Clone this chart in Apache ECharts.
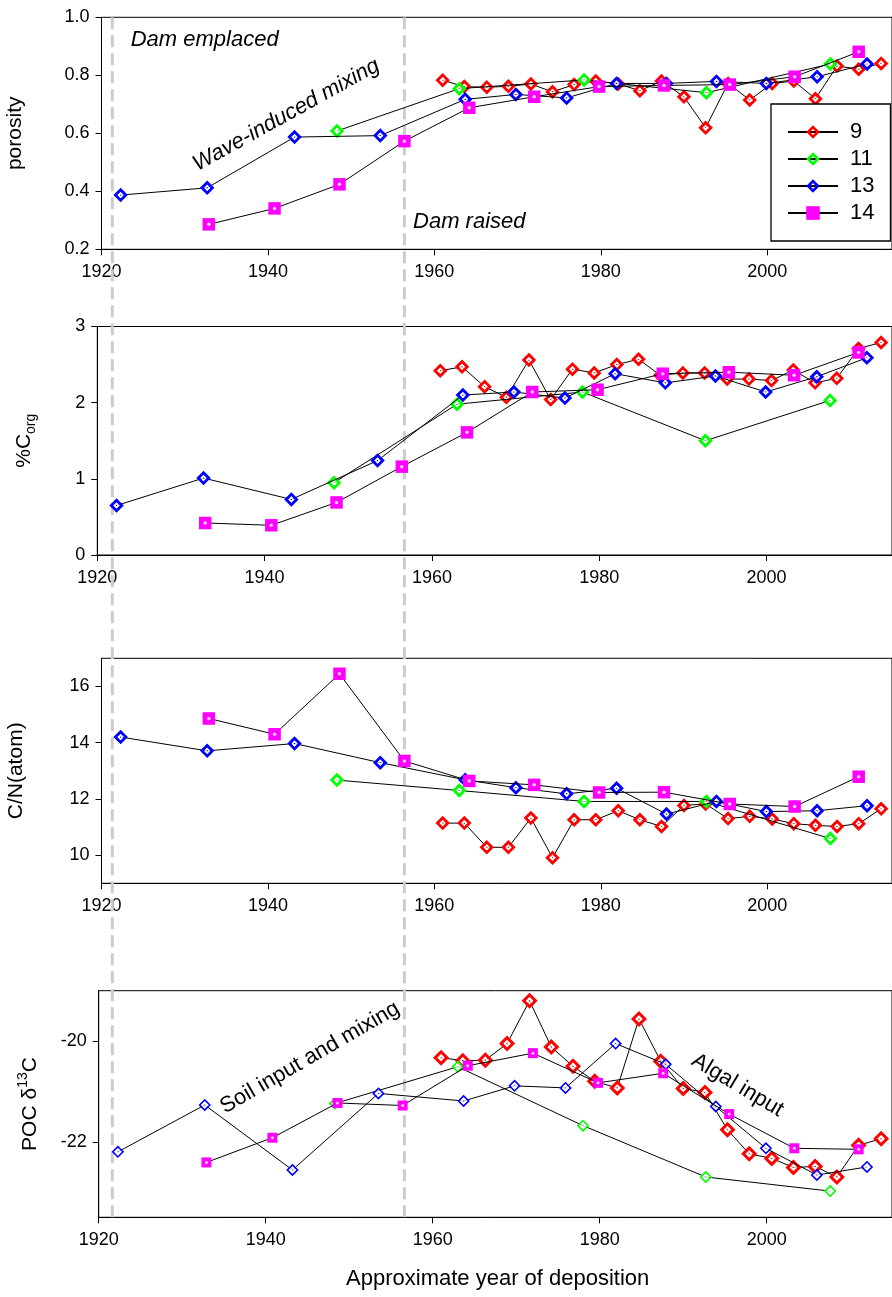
<!DOCTYPE html>
<html><head><meta charset="utf-8">
<script src="https://cdn.jsdelivr.net/npm/echarts@6/dist/echarts.min.js"></script>
<style>html,body{margin:0;padding:0;background:#fff}#c{width:892px;height:1297px}</style>
</head><body><div id="c"></div>
<script>
// ---- sample years (approximate year of deposition) per core ----
const years9  = [1961.0,1963.6,1966.3,1968.9,1971.6,1974.2,1976.8,1979.4,1982.1,1984.7,1987.3,1990.0,1992.6,1995.3,1997.9,2000.6,2003.2,2005.8,2008.4,2011.0,2013.7];
const years11 = [1948.3,1963.0,1978.0,1992.7,2007.6];
const years13 = [1922.3,1932.7,1943.2,1953.5,1963.7,1969.8,1975.9,1981.9,1987.9,1993.9,1999.9,2006.0,2012.0];
const years14 = [1932.9,1940.8,1948.6,1956.4,1964.2,1972.0,1979.8,1987.6,1995.5,2003.3,2011.0];

// ---- porosity ----
const poro9  = [0.783,0.761,0.759,0.762,0.770,0.743,0.768,0.780,0.770,0.747,0.780,0.726,0.619,0.772,0.715,0.772,0.780,0.719,0.832,0.821,0.841];
const poro11 = [0.608,0.754,0.784,0.740,0.839];
const poro13 = [0.387,0.412,0.587,0.592,0.717,0.734,0.722,0.772,0.772,0.779,0.772,0.795,0.839];
const poro14 = [0.286,0.341,0.424,0.573,0.688,0.726,0.761,0.765,0.768,0.795,0.881];

// ---- %Corg ----
const corg9  = [2.42,2.47,2.21,2.07,2.56,2.04,2.44,2.39,2.50,2.57,2.36,2.39,2.39,2.31,2.31,2.29,2.43,2.26,2.32,2.71,2.79];
const corg11 = [0.95,1.98,2.14,1.50,2.03];
const corg13 = [0.65,1.01,0.73,1.24,2.10,2.14,2.06,2.38,2.26,2.35,2.14,2.34,2.59];
const corg14 = [0.42,0.39,0.69,1.16,1.61,2.14,2.17,2.38,2.40,2.36,2.66];

// ---- C/N (atomic) ----
const cn9  = [11.14,11.14,10.28,10.28,11.32,9.91,11.26,11.26,11.58,11.26,11.02,11.77,11.82,11.30,11.38,11.29,11.12,11.06,11.02,11.12,11.65];
const cn11 = [12.67,12.30,11.91,11.91,10.59];
const cn13 = [14.20,13.71,13.97,13.29,12.68,12.40,12.18,12.38,11.46,11.91,11.55,11.58,11.76];
const cn14 = [14.86,14.30,16.45,13.35,12.64,12.50,12.23,12.24,11.82,11.73,12.79];

// ---- POC d13C ----
const d9  = [-20.33,-20.39,-20.38,-20.05,-19.20,-20.12,-20.50,-20.80,-20.93,-19.56,-20.40,-20.94,-21.02,-21.76,-22.24,-22.33,-22.51,-22.49,-22.70,-22.07,-21.94];
const d11 = [-21.24,-20.51,-21.68,-22.70,-22.98];
const d13 = [-22.20,-21.27,-22.56,-21.04,-21.19,-20.89,-20.93,-20.05,-20.46,-21.30,-22.13,-22.66,-22.50];
const d14 = [-22.41,-21.92,-21.23,-21.28,-20.49,-20.24,-20.83,-20.64,-21.45,-22.13,-22.15];

// ---- axis ticks ----
const xTickInterval = 20;
const yPanels = [
  {min:0.2, max:1.0, ticks:[0.2,0.4,0.6,0.8,1.0], fmt:v=>v.toFixed(1)},
  {min:0, max:3, ticks:[0,1,2,3], fmt:v=>String(v)},
  {min:9, max:17, ticks:[10,12,14,16], fmt:v=>String(v)},
  {min:-23.5, max:-19, ticks:[-22,-20], fmt:v=>String(v)}
];
const panelValues = [
  [poro9,poro11,poro13,poro14],
  [corg9,corg11,corg13,corg14],
  [cn9,cn11,cn13,cn14],
  [d9,d11,d13,d14]
];
const coreNames = ['9','11','13','14'];
const coreYears = [years9,years11,years13,years14];
const coreColors = ['#ff0000','#00ff00','#0000ff','#ff00ff'];

const FONT = 'Liberation Sans, Arial, sans-serif';
const grids = [
  {left:101.5, top:17.3,  width:795.2, height:232},
  {left:97.3,  top:326.5, width:801.8, height:228.5},
  {left:101.5, top:658.3, width:795.2, height:225},
  {left:98.7,  top:990.7, width:794.7, height:226.6}
];

// diamond ring symbol (outer half-diagonal 7) with hole of half-diagonal h and a centre dot
function ringPath(h){
  return 'path://M0,-7L7,0L0,7L-7,0Z' +
    'M0,-' + h + 'L-' + h + ',0L0,' + h + 'L' + h + ',0Z' +
    'M0,-0.8L0.8,0L0,0.8L-0.8,0Z';
}
// white band filling the ring's hole around the centre dot
function holePath(h){
  return 'path://M0,-' + h + 'L' + h + ',0L0,' + h + 'L-' + h + ',0Z' +
    'M0,-0.8L-0.8,0L0,0.8L0.8,0Z';
}
function markerStyle(panel, core){
  const c = coreColors[core];
  if (core === 3) {
    return {symbol:'rect', symbolSize: panel === 3 ? 10 : 12.5, hole:null};
  }
  let size = 14.5, h = 3.0;
  if (panel === 3 && core !== 0) { size = 12.5; h = 4.3; }
  else if (panel === 3) { size = 16; h = 3.2; }
  return {symbol:ringPath(h), symbolSize:size, hole:{symbol:holePath(h), symbolSize:size*h/7}};
}

const series = [];
for (let p = 0; p < 4; p++) {
  for (let k = 0; k < 4; k++) {
    const data = coreYears[k].map((y,i)=>[y, panelValues[p][k][i]]);
    const ms = markerStyle(p,k);
    const baseZ = 2 + k*0.2;
    series.push({
      type:'line', name:coreNames[k], xAxisIndex:p, yAxisIndex:p, data:data,
      symbol:ms.symbol, symbolSize:ms.symbolSize,
      itemStyle:{color:coreColors[k], borderWidth:0},
      lineStyle:{color:'#000', width:1}, showSymbol:true, z:baseZ,
      emphasis:{disabled:true}, animation:false, silent:true
    });
    if (ms.hole) {
      series.push({type:'scatter', name:'hole'+k, xAxisIndex:p, yAxisIndex:p, data:data,
        symbol:ms.hole.symbol, symbolSize:ms.hole.symbolSize, itemStyle:{color:'#fff'},
        z:baseZ+0.1, silent:true, animation:false, emphasis:{disabled:true}});
    } else {
      series.push({type:'scatter', name:'dot'+k, xAxisIndex:p, yAxisIndex:p, data:data,
        symbol:'circle', symbolSize:p===3?3:3.5, itemStyle:{color:'#fff'},
        z:baseZ+0.1, silent:true, animation:false, emphasis:{disabled:true}});
    }
  }
}

const xAxes = grids.map((g,i)=>({
  type:'value', gridIndex:i, min:1920, max:2015, interval:xTickInterval,
  axisLine:{show:true, lineStyle:{color:'#000', width:1}},
  axisTick:{show:true, inside:false, length:6, lineStyle:{color:'#000'}},
  axisLabel:{fontSize:18, color:'#000', fontFamily:FONT, margin:14, showMaxLabel:false, formatter:v=>String(v)},
  splitLine:{show:false}
}));
const yAxes = yPanels.map((yp,i)=>({
  type:'value', gridIndex:i, min:yp.min, max:yp.max,
  axisLine:{show:true, lineStyle:{color:'#000', width:1}},
  axisTick:{show:true, inside:false, length:6, lineStyle:{color:'#000'}, customValues:yp.ticks},
  axisLabel:{fontSize:18, color:'#000', fontFamily:FONT, margin:12, customValues:yp.ticks, formatter:yp.fmt},
  splitLine:{show:false}
}));

const legendData = coreNames.map((n,k)=>({name:n, itemStyle:{color:coreColors[k], borderWidth:0}}));

const chart = echarts.init(document.getElementById('c'));
chart.setOption({
  animation:false,
  backgroundColor:'#fff',
  grid: grids.map(g=>Object.assign({show:true, borderColor:'#000', borderWidth:1, backgroundColor:'transparent', containLabel:false}, g)),
  xAxis: xAxes, yAxis: yAxes,
  legend: {
    data:legendData, orient:'vertical', left:771, top:104,
    padding:[17, 16, 17, 16], itemGap:5, itemWidth:50, itemHeight:17,
    borderColor:'#000', borderWidth:1.3, backgroundColor:'#fff', borderRadius:0,
    selectedMode:false,
    textStyle:{fontSize:22, lineHeight:22, color:'#000', fontFamily:FONT, padding:[0,0,0,7]}
  },
  series: series
});

// ---- annotations placed in data coordinates ----
const notes = [
  {text:'Dam emplaced', grid:0, at:[1932.4, 0.922], rot:0, italic:true},
  {text:'Wave-induced mixing', grid:0, at:[1942.2, 0.663], rot:29, italic:true},
  {text:'Dam raised', grid:0, at:[1964.2, 0.294], rot:0, italic:true},
  {text:'Soil input and mixing', grid:3, at:[1945.3, -20.33], rot:30, italic:false},
  {text:'Algal input', grid:3, at:[1996.5, -20.88], rot:-31, italic:false}
];
const damYears = [1921.3, 1956.4];

const graphics = [];
const topY = chart.convertToPixel({gridIndex:0}, [1920, yPanels[0].max])[1];
const botY = chart.convertToPixel({gridIndex:3}, [1920, yPanels[3].min])[1] + 3;
damYears.forEach(yr=>{
  const x = chart.convertToPixel({gridIndex:0}, [yr, 0.5])[0];
  graphics.push({type:'line', z:1, silent:true,
    shape:{x1:x, y1:topY, x2:x, y2:botY},
    style:{stroke:'#cccccc', lineWidth:3, lineDash:[12,6]}});
});
notes.forEach(n=>{
  const pt = chart.convertToPixel({gridIndex:n.grid}, n.at);
  graphics.push({type:'text', z:5, silent:true, x:pt[0], y:pt[1], rotation:n.rot*Math.PI/180,
    style:{text:n.text, fontSize:22, fontFamily:FONT, fontStyle:n.italic?'italic':'normal',
      fill:'#000', align:'center', verticalAlign:'middle'}});
});
// axis titles
const yTitles = [
  {text:'porosity', rich:null},
  {text:'%C{s|org}', rich:{s:{fontSize:14, lineHeight:14, verticalAlign:'bottom', fontFamily:FONT, fill:'#000'}}},
  {text:'C/N(atom)', rich:null},
  {text:'POC δ{p|13}C', rich:{p:{fontSize:14, lineHeight:14, verticalAlign:'top', fontFamily:FONT, fill:'#000'}}}
];
const yTitleX = [15, 24, 16, 30];
yTitles.forEach((t,i)=>{
  const g = grids[i];
  const style = {text:t.text, fontSize:21, fontFamily:FONT, fill:'#000', align:'center', verticalAlign:'middle'};
  if (t.rich) { style.rich = t.rich; style.lineHeight = 28; }
  graphics.push({type:'text', z:5, silent:true, x:yTitleX[i], y:g.top + g.height/2, rotation:Math.PI/2, style:style});
});
graphics.push({type:'text', z:5, silent:true, x:grids[3].left + 399, y:1279,
  style:{text:'Approximate year of deposition', fontSize:22, fontFamily:FONT, fill:'#000', align:'center', verticalAlign:'middle'}});

chart.setOption({graphic: graphics});
</script>
</body></html>
